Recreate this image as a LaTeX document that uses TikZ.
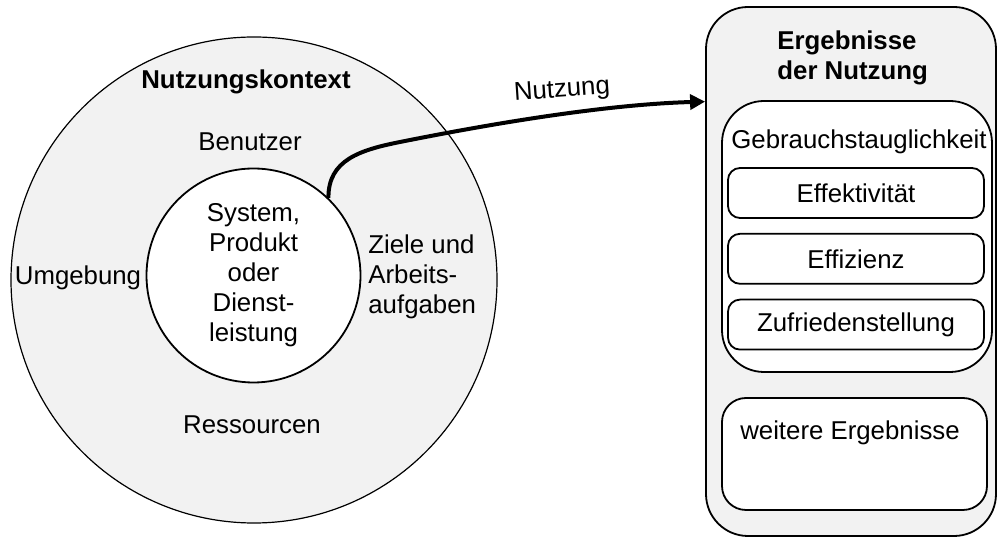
\documentclass[tikz,border=0pt]{standalone}
\usepackage{fontspec}
\setmainfont{Liberation Sans}
\usetikzlibrary{arrows.meta,calc,positioning}

\newcommand{\diagfont}{\fontsize{12.9pt}{15pt}\selectfont}

\begin{document}
\begin{tikzpicture}[
		x=0.5pt, y=-0.5pt,
		font=\diagfont,
		node distance=7pt,
		ring/.style={circle, draw, line width=0.6pt, fill=black!5, minimum size=243pt, inner sep=0pt},
		core/.style={circle, draw, line width=0.9pt, fill=white, align=center, minimum size=107pt, inner sep=0pt},
		caption/.style={inner sep=0pt, align=left},
		heading/.style={caption, font=\diagfont\bfseries},
		panel/.style={draw, line width=0.9pt, fill=black!5, rounded corners=21pt, minimum width=145pt, minimum height=264.5pt},
		group/.style={draw, line width=0.9pt, fill=white, rounded corners=21pt, minimum width=135pt, minimum height=135.5pt},
		item/.style={draw, line width=0.9pt, fill=white, rounded corners=6pt, minimum width=128pt, minimum height=25pt, inner sep=0pt},
		flow/.style={line width=2pt, -{Triangle[length=7.5pt, width=7.5pt]}},
	]
	\useasboundingbox (0,0) rectangle (998,539);

	% Nutzungskontext
	\node [ring] (context) at (254,280) {};
	\node [core] (system) at (253.5,275.5) {System,\\Produkt\\oder\\Dienst-\\leistung};
	\node [heading] (context title) at (246,82) {Nutzungskontext};
	\node [caption] (users) at (250,142) {Benutzer};
	\node [caption] (environment) at (78,278) {Umgebung};
	\node [caption, anchor=west] (goals) at (368,277) {Ziele und\\Arbeits-\\aufgaben};
	\node [caption] (resources) at (252,425) {Ressourcen};

	% Ergebnisse der Nutzung
	\node [panel] (results) at (851,271.5) {};
	\node [heading, anchor=west] (results title) at (777,57.5) {Ergebnisse\\der Nutzung};
	\node [group] (usability) at (857,236.5) {};
	\node [caption] (usability title) at (859,142) {Gebrauchstauglichkeit};
	\node [item] (effectiveness) at (856,193) {Effektivität};
	\node [item, below=of effectiveness] (efficiency) {Effizienz};
	\node [item, below=of efficiency] (satisfaction) {Zufriedenstellung};
	\node [draw, line width=0.9pt, fill=white, rounded corners=12pt, minimum width=132.5pt, minimum height=56pt] (further) at (854.5,454) {};
	\node [caption] (further title) at (850,433) {weitere Ergebnisse};

	\coordinate (entry) at ($(results.north west)!0.18!(results.south west)$);
	\draw[flow] (system.46) .. controls (328,160) and (360,150) .. (400,142)
		.. controls (520,118) and (620,104) .. (entry);
	\node [caption, rotate=4] (use) at (562,91) {Nutzung};
\end{tikzpicture}
\end{document}
